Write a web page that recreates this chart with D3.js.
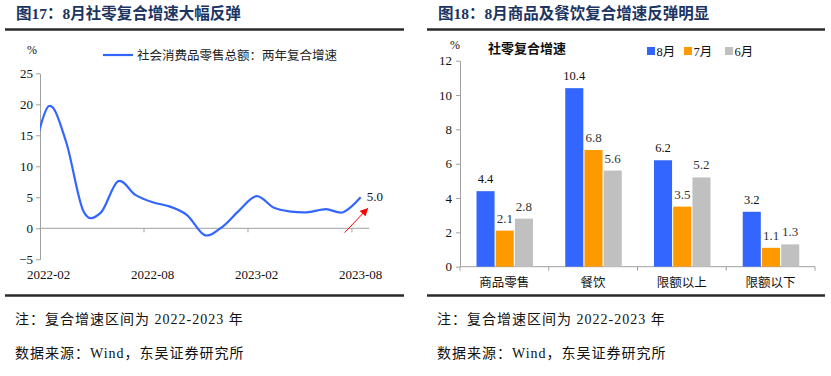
<!DOCTYPE html>
<html>
<head>
<meta charset="utf-8">
<script src="https://cdn.jsdelivr.net/npm/d3@7"></script>
<style>
  body { margin: 0; background: #fff; }
  svg { display: block; }
  text { font-family: "Liberation Serif", "Noto Sans CJK SC", serif; }
</style>
</head>
<body>
<div id="chart"></div>
<script>
// left chart: two-year compound growth of retail sales
const lineMonths = ["2022-01", "2022-02", "2022-03", "2022-04", "2022-05", "2022-06", "2022-07", "2022-08",
    "2022-09", "2022-10", "2022-11", "2022-12", "2023-01", "2023-02", "2023-03", "2023-04",
    "2023-05", "2023-06", "2023-07", "2023-08"];
const lineValues = [10.5, 19.7, 14.0, 2.8, 2.5, 7.6, 5.4, 4.2, 3.5, 2.1, -1.1, 0.2, 2.9, 5.2, 3.3, 2.7, 2.6, 3.1, 2.6, 5.0];
const lineTicks = [-5, 0, 5, 10, 15, 20, 25];
const lineLabels = ["2022-02", "2022-08", "2023-02", "2023-08"];
const lineSeriesName = "社会消费品零售总额：两年复合增速";

// right chart: compound growth by category
const barCategories = ["商品零售", "餐饮", "限额以上", "限额以下"];
const barSeries = ["8月", "7月", "6月"];
const augValues = [4.4, 10.4, 6.2, 3.2];
const julValues = [2.1, 6.8, 3.5, 1.1];
const junValues = [2.8, 5.6, 5.2, 1.3];
const barTicks = [0, 2, 4, 6, 8, 10, 12];

const W = 831, H = 376;
const axisColor = "#a0a0a0";
const titleColor = "#1b3461";

const svg = d3.select("#chart").append("svg")
    .attr("width", W)
    .attr("height", H);

// titles, rules, notes for both panels
function DrawFrame(x0, x1, title) {
    svg.append("text")
        .attr("x", x0 + 11)
        .attr("y", 19)
        .attr("font-size", "15.5px")
        .attr("font-weight", "bold")
        .attr("fill", titleColor)
        .text(title);

    [29.5, 295.5].forEach(y => {
        svg.append("line")
            .attr("x1", x0).attr("x2", x1)
            .attr("y1", y).attr("y2", y)
            .attr("stroke", "#2a2a2a")
            .attr("stroke-width", 2.5);
    });

    svg.append("text")
        .attr("x", x0 + 10)
        .attr("y", 324)
        .attr("font-size", "14px")
        .attr("letter-spacing", "1px")
        .attr("fill", "#111")
        .text("注：复合增速区间为 2022-2023 年");

    svg.append("text")
        .attr("x", x0 + 10)
        .attr("y", 358)
        .attr("font-size", "14px")
        .attr("letter-spacing", "1px")
        .attr("fill", "#111")
        .text("数据来源：Wind，东吴证券研究所");
}

DrawFrame(5, 404, "图17：8月社零复合增速大幅反弹");
DrawFrame(427, 825, "图18：8月商品及餐饮复合增速反弹明显");

// ---------------- left: line chart ----------------
const shownMonths = lineMonths.slice(1);
const xL = d3.scaleBand()
    .domain(shownMonths)
    .range([40, 369.3]);
const yL = d3.scaleLinear()
    .domain([-5, 25])
    .range([259.3, 73.3]);

// center of a month, allowing the one month before the axis
function XCenter(m) {
    if (xL(m) === undefined) return xL(shownMonths[0]) - xL.step() / 2;
    return xL(m) + xL.bandwidth() / 2;
}

const gL = svg.append("g");

gL.append("g")
    .attr("transform", "translate(40,0)")
    .call(d3.axisLeft(yL).tickValues(lineTicks).tickSize(4).tickSizeOuter(0).tickPadding(3))
    .call(g => g.select(".domain").attr("stroke", axisColor))
    .call(g => g.selectAll(".tick line").attr("stroke", axisColor))
    .call(g => g.selectAll(".tick text")
        .attr("font-family", "Liberation Serif")
        .attr("font-size", "13px")
        .attr("fill", "#111"));

// zero line with month ticks
gL.append("line")
    .attr("x1", 40).attr("x2", xL.range()[1])
    .attr("y1", yL(0)).attr("y2", yL(0))
    .attr("stroke", axisColor);

gL.selectAll(".mtick")
    .data(lineLabels.slice(1))
    .enter()
    .append("line")
    .attr("x1", d => xL(d)).attr("x2", d => xL(d))
    .attr("y1", yL(0)).attr("y2", yL(0) + 4)
    .attr("stroke", axisColor);

gL.selectAll(".mlabel")
    .data(lineLabels)
    .enter()
    .append("text")
    .attr("x", d => XCenter(d))
    .attr("y", yL(-5) + 20)
    .attr("text-anchor", "middle")
    .attr("font-size", "13px")
    .attr("fill", "#111")
    .text(d => d);

gL.append("text")
    .attr("x", 32)
    .attr("y", 54)
    .attr("text-anchor", "middle")
    .attr("font-size", "12px")
    .attr("fill", "#111")
    .text("%");

// clip so the line starts at the y axis
svg.append("defs").append("clipPath")
    .attr("id", "clipL")
    .append("rect")
    .attr("x", 40).attr("y", 60)
    .attr("width", 340).attr("height", 210);

const lineData = lineMonths.map((m, i) => ({month: m, value: lineValues[i]}));

gL.append("path")
    .datum(lineData)
    .attr("clip-path", "url(#clipL)")
    .attr("fill", "none")
    .attr("stroke", "#3366ff")
    .attr("stroke-width", 2.2)
    .attr("d", d3.line()
        .x(d => XCenter(d.month))
        .y(d => yL(d.value))
        .curve(d3.curveCardinal.tension(0)));

// legend
gL.append("line")
    .attr("x1", 103).attr("x2", 133)
    .attr("y1", 55).attr("y2", 55)
    .attr("stroke", "#3366ff")
    .attr("stroke-width", 2.2);
gL.append("text")
    .attr("x", 137)
    .attr("y", 59.5)
    .attr("font-size", "12.5px")
    .attr("fill", "#222")
    .text(lineSeriesName);

// last value + red arrow
const last = lineData[lineData.length - 1];
gL.append("text")
    .attr("x", XCenter(last.month) + 6)
    .attr("y", yL(last.value) + 4)
    .attr("font-size", "13px")
    .attr("fill", "#111")
    .text(last.value.toFixed(1));

svg.select("defs").append("marker")
    .attr("id", "arrow")
    .attr("viewBox", "0 0 10 10")
    .attr("refX", 9).attr("refY", 5)
    .attr("markerWidth", 9).attr("markerHeight", 8)
    .attr("markerUnits", "userSpaceOnUse")
    .attr("orient", "auto")
    .append("path")
    .attr("d", "M0,0L10,5L0,10Z")
    .attr("fill", "#ff0000");

gL.append("line")
    .attr("x1", XCenter(last.month) - 16)
    .attr("y1", yL(-0.7))
    .attr("x2", XCenter(last.month) + 7)
    .attr("y2", yL(3.2))
    .attr("stroke", "#ff0000")
    .attr("stroke-width", 1)
    .attr("marker-end", "url(#arrow)");

// ---------------- right: grouped bars ----------------
const x0 = d3.scaleBand()
    .domain(barCategories)
    .range([460, 815]);
const x1 = d3.scaleBand()
    .domain(barSeries)
    .range([16.5, 73])
    .paddingInner(0.06);
const yR = d3.scaleLinear()
    .domain([0, 12])
    .range([266.7, 60.7]);
const colors = {"8月": "#3366ff", "7月": "#ff9900", "6月": "#c0c0c0"};
const seriesValues = {"8月": augValues, "7月": julValues, "6月": junValues};

const gR = svg.append("g");

gR.append("g")
    .attr("transform", "translate(460,0)")
    .call(d3.axisLeft(yR).tickValues(barTicks).tickSize(4).tickSizeOuter(0).tickPadding(4))
    .call(g => g.select(".domain").attr("stroke", axisColor))
    .call(g => g.selectAll(".tick line").attr("stroke", axisColor))
    .call(g => g.selectAll(".tick text")
        .attr("font-family", "Liberation Serif")
        .attr("font-size", "13px")
        .attr("fill", "#111"));

gR.append("line")
    .attr("x1", 460).attr("x2", 815)
    .attr("y1", yR(0)).attr("y2", yR(0))
    .attr("stroke", axisColor);

gR.selectAll(".ctick")
    .data(barCategories.concat(["end"]))
    .enter()
    .append("line")
    .attr("x1", d => d === "end" ? 815 : x0(d))
    .attr("x2", d => d === "end" ? 815 : x0(d))
    .attr("y1", yR(0)).attr("y2", yR(0) + 4)
    .attr("stroke", axisColor);

gR.selectAll(".clabel")
    .data(barCategories)
    .enter()
    .append("text")
    .attr("x", d => x0(d) + x0.bandwidth() / 2)
    .attr("y", yR(0) + 20)
    .attr("text-anchor", "middle")
    .attr("font-size", "12.5px")
    .attr("fill", "#111")
    .text(d => d);

const barData = [];
barCategories.forEach((c, i) => {
    barSeries.forEach(s => barData.push({cat: c, series: s, value: seriesValues[s][i]}));
});

gR.selectAll(".bar")
    .data(barData)
    .enter()
    .append("rect")
    .attr("x", d => x0(d.cat) + x1(d.series))
    .attr("y", d => yR(d.value))
    .attr("width", x1.bandwidth())
    .attr("height", d => yR(0) - yR(d.value))
    .attr("fill", d => colors[d.series]);

gR.selectAll(".blabel")
    .data(barData)
    .enter()
    .append("text")
    .attr("x", d => x0(d.cat) + x1(d.series) + x1.bandwidth() / 2)
    .attr("y", d => yR(d.value) - 8)
    .attr("text-anchor", "middle")
    .attr("font-family", d => d.series === "8月" ? "Liberation Sans" : "Liberation Serif")
    .attr("font-size", d => d.series === "8月" ? "12.5px" : "13px")
    .attr("fill", d => d.series === "8月" ? "#111" : "#333")
    .text(d => d.value.toFixed(1));

gR.append("text")
    .attr("x", 455)
    .attr("y", 49)
    .attr("text-anchor", "middle")
    .attr("font-size", "12px")
    .attr("fill", "#111")
    .text("%");

gR.append("text")
    .attr("x", 488)
    .attr("y", 53)
    .attr("font-family", "Noto Sans CJK SC")
    .attr("font-size", "13px")
    .attr("font-weight", "bold")
    .attr("fill", "#111")
    .text("社零复合增速");

// legend
const legendX = [647, 684, 725];
barSeries.forEach((s, i) => {
    gR.append("rect")
        .attr("x", legendX[i]).attr("y", 47)
        .attr("width", 8).attr("height", 8)
        .attr("fill", colors[s]);
    gR.append("text")
        .attr("x", legendX[i] + 9.5)
        .attr("y", 55.5)
        .attr("font-size", "12.5px")
        .attr("fill", "#111")
        .text(s);
});
</script>
</body>
</html>
